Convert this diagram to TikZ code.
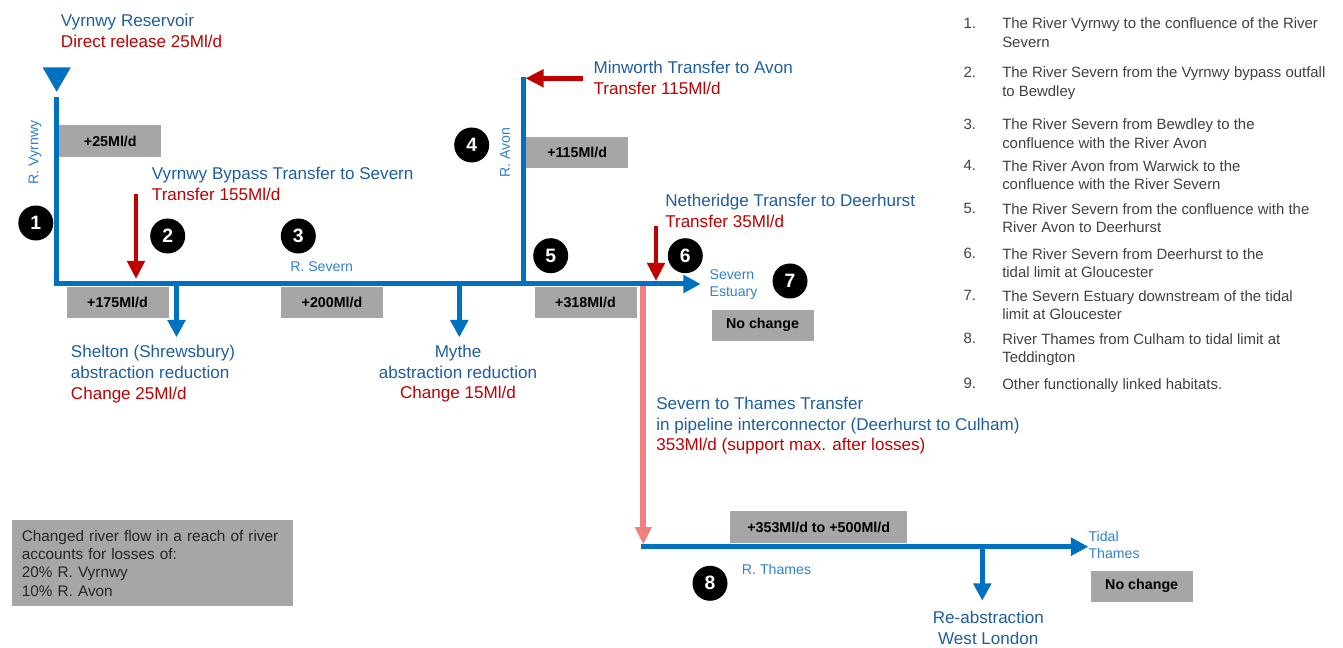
\documentclass[tikz,border=0pt]{standalone}
\usepackage{fontspec}
\setmainfont{Liberation Sans}
\usetikzlibrary{arrows.meta,shapes.geometric}
\definecolor{river}{RGB}{0,112,192}
\definecolor{head}{RGB}{30,94,158}
\definecolor{tagblue}{RGB}{46,130,206}
\definecolor{loss}{RGB}{192,0,0}
\definecolor{pipe}{RGB}{238,128,128}
\definecolor{flowgrey}{RGB}{166,166,166}
\definecolor{ink}{RGB}{64,64,64}
\tikzset{
  title/.style={anchor=north west, inner sep=0pt, align=left, text=head, font=\fontsize{12.8}{15.5}\selectfont},
  tag/.style={inner sep=0pt, text=tagblue, align=left, font=\fontsize{10.6}{12.8}\selectfont},
  gain/.style={fill=flowgrey, inner sep=0pt, minimum width=76.5pt, minimum height=23.5pt, font=\fontsize{10.7}{12}\selectfont\bfseries},
  reach/.style={circle, fill=black, text=white, inner sep=0pt, minimum size=26.25pt, font=\fontsize{14.5}{15}\selectfont\bfseries},
  riverline/.style={draw=river, line width=3.75pt},
  outflow/.style={riverline, -{Triangle[length=13pt,width=13pt]}},
  transfer/.style={draw=loss, line width=3.5pt, -{Triangle[length=13.5pt,width=12.75pt]}},
  pipeline/.style={draw=pipe, line width=4.3pt, -{Triangle[length=13pt,width=11.8pt]}},
  num/.style={anchor=base west, inner sep=0pt, text=ink, font=\fontsize{11.2}{13.8}\selectfont},
  item/.style={anchor=north west, inner sep=0pt, align=left, text=ink, font=\fontsize{11.2}{13.8}\selectfont},
}

\begin{document}
\begin{tikzpicture}[x=0.75pt, y=-0.75pt]
  \useasboundingbox (0,0) rectangle (1343,648);
  % rivers: Vyrnwy into Severn, Avon joining, Thames fed by the pipeline
  \node[regular polygon, regular polygon sides=3, shape border rotate=180, fill=river, inner sep=0pt, minimum size=24.45pt] (res) at (56.7,75.5) {};
  \coordinate (vtop) at (56.7,96.7);
  \coordinate (estuary) at (700.7,284);
  \coordinate (avtop) at (523.3,76.7);
  \coordinate (avmouth) at (523.3,284);
  \coordinate (deerhurst) at (643.3,286);
  \coordinate (culham) at (643.3,544.5);
  \coordinate (tstart) at (641,546.7);
  \coordinate (tidal) at (1088.3,546.7);
  \draw[outflow] (vtop) |- (estuary);
  \draw[riverline] (avtop) -- (avmouth);
  \draw[pipeline] (deerhurst) -- (culham);
  \draw[outflow] (tstart) -- (tidal);

  % abstractions off the main stem
  \coordinate (shelton) at (176.5,284);
  \coordinate (mythe) at (459.3,284);
  \coordinate (london) at (982.3,546.7);
  \draw[outflow] (shelton) -- ++(0,53.3);
  \draw[outflow] (mythe) -- ++(0,53.3);
  \draw[outflow] (london) -- ++(0,54);

  % transfers in
  \coordinate (bypass) at (136,194);
  \coordinate (minworth) at (583.3,78.3);
  \coordinate (netheridge) at (656,225.7);
  \draw[transfer] (bypass) -- ++(0,85);
  \draw[transfer] (minworth) -- ++(-57.8,0);
  \draw[transfer] (netheridge) -- ++(0,55.3);

  % headings
  \node[title] (restxt) at (60.7,13.8) {Vyrnwy Reservoir\\\textcolor{loss}{Direct release 25Ml/d}};
  \node[title] (bypasstxt) at (151.7,166.8) {Vyrnwy Bypass Transfer to Severn\\\textcolor{loss}{Transfer 155Ml/d}};
  \node[title] (minworthtxt) at (593.3,61.1) {Minworth Transfer to Avon\\\textcolor{loss}{Transfer 115Ml/d}};
  \node[title] (netheridgetxt) at (665,193.8) {Netheridge Transfer to Deerhurst\\\textcolor{loss}{Transfer 35Ml/d}};
  \node[title] (sheltontxt) at (70.7,345.1) {Shelton (Shrewsbury)\\abstraction reduction\\\textcolor{loss}{Change 25Ml/d}};
  \node[title, anchor=north, align=center] (mythetxt) at (458,344.8) {Mythe\\abstraction reduction\\\textcolor{loss}{Change 15Ml/d}};
  \node[title] (stttxt) at (656,396.8) {Severn to Thames Transfer\\in pipeline interconnector (Deerhurst to Culham)\\\textcolor{loss}{353Ml/d (support max. after losses)}};
  \node[title, anchor=north, align=center] (reabstxt) at (988.3,611.1) {Re-abstraction\\West London};

  % river names
  \node[tag, rotate=90] (vyrnwytag) at (35,152.5) {R. Vyrnwy};
  \node[tag, rotate=90] (avontag) at (505,152.3) {R. Avon};
  \node[tag, anchor=base west] (severntag) at (290,271.7) {R. Severn};
  \node[tag, anchor=north west] (estuarytag) at (709.3,269) {Severn\\Estuary};
  \node[tag, anchor=base west] (thamestag) at (741.7,574) {R. Thames};
  \node[tag, anchor=north west] (tidaltag) at (1088.3,531.4) {Tidal\\Thames};

  % flow changes per reach
  \node[gain] (g25) at (110.3,141) {+25Ml/d};
  \node[gain] (g175) at (117.5,302.2) {+175Ml/d};
  \node[gain] (g200) at (332,302.2) {+200Ml/d};
  \node[gain] (g115) at (577.2,152.2) {+115Ml/d};
  \node[gain] (g318) at (585.5,302.2) {+318Ml/d};
  \node[gain] (nc7) at (762.5,325.2) {No change};
  \node[gain, minimum width=133pt, minimum height=24.2pt] (g353) at (818.7,527.2) {+353Ml/d to +500Ml/d};
  \node[gain] (nc8) at (1141.7,586.2) {No change};

  % reach numbers
  \node[reach] (r1) at (35.8,223) {1};
  \node[reach] (r2) at (167.7,236) {2};
  \node[reach] (r3) at (298.3,236) {3};
  \node[reach] (r4) at (471.7,145) {4};
  \node[reach] (r5) at (550.7,255.7) {5};
  \node[reach] (r6) at (685.3,255.7) {6};
  \node[reach] (r7) at (790,281) {7};
  \node[reach] (r8) at (710,583.3) {8};

  % losses note
  \node[anchor=north west, fill=flowgrey, inner xsep=7.4pt, inner ysep=0pt, minimum width=210.75pt, minimum height=64.5pt, text width=196pt, align=left, text=black!85, font=\fontsize{11.5}{13.7}\selectfont] (losses) at (11.7,520) {Changed river flow in a reach of river\\accounts for losses of:\\20\% R. Vyrnwy\\10\% R. Avon};

  % key to the reaches
  \foreach \n/\y/\txt in {
      1/28.3/{The River Vyrnwy to the confluence of the River\\Severn},
      2/77.3/{The River Severn from the Vyrnwy bypass outfall\\to Bewdley},
      3/129.3/{The River Severn from Bewdley to the\\confluence with the River Avon},
      4/170.7/{The River Avon from Warwick to the\\confluence with the River Severn},
      5/214/{The River Severn from the confluence with the\\River Avon to Deerhurst},
      6/258.7/{The River Severn from Deerhurst to the\\tidal limit at Gloucester},
      7/300.7/{The Severn Estuary downstream of the tidal\\limit at Gloucester},
      8/344/{River Thames from Culham to tidal limit at\\Teddington},
      9/389/{Other functionally linked habitats.}}{
    \node[num] (num\n) at (963.3,\y) {\n.};
    \node[item] (item\n) at (1002,\y-10.7) {\txt};
  }
\end{tikzpicture}
\end{document}
